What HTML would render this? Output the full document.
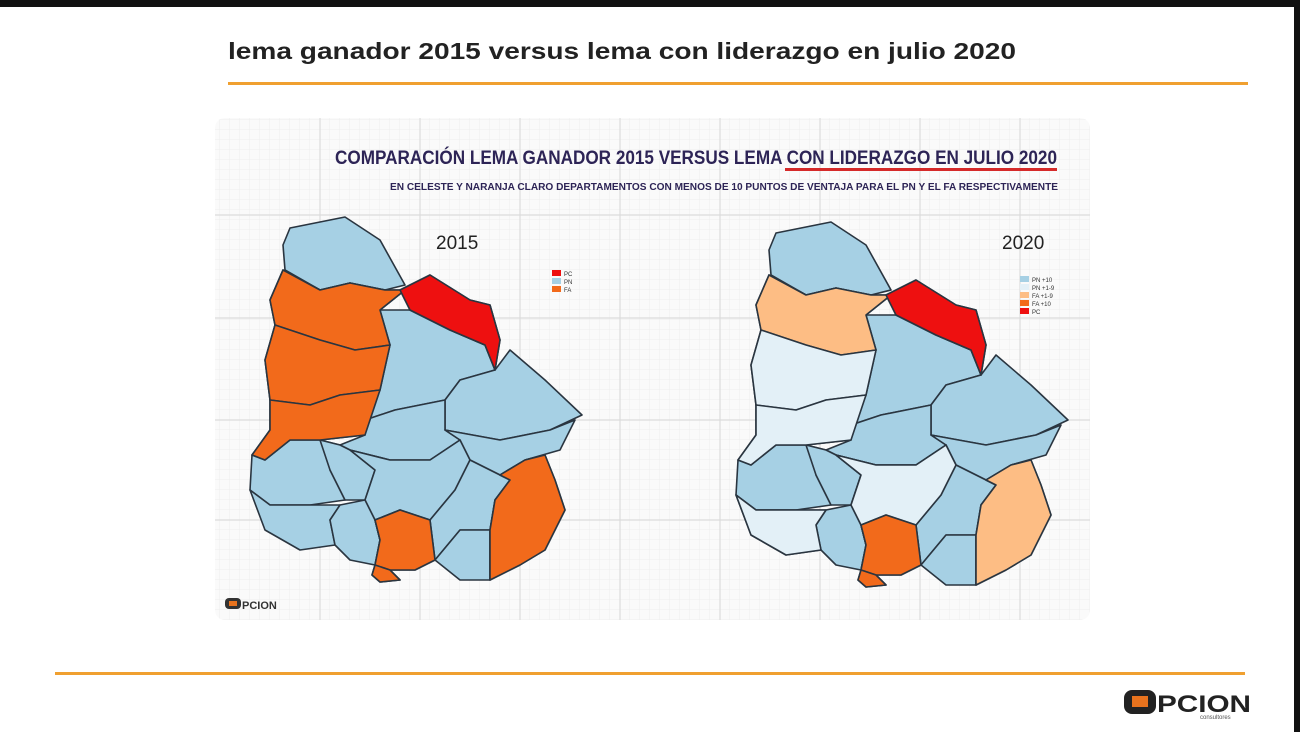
<!DOCTYPE html>
<html><head><meta charset="utf-8"><style>
body{margin:0;width:1300px;height:732px;background:#111;overflow:hidden;font-family:"Liberation Sans",sans-serif}
#page{position:absolute;left:0;top:7px;width:1294px;height:725px;background:#fff}
</style></head><body>
<div id="page"></div>
<svg width="1300" height="732" style="position:absolute;left:0;top:0">
<defs>
<pattern id="g" width="10" height="10" patternUnits="userSpaceOnUse"><path d="M10 0V10H0" fill="none" stroke="#eeeeee" stroke-width="1"/></pattern>
<g id="map" stroke="#2a3540" stroke-width="1.6" stroke-linejoin="round">
<polygon id="art" points="290,228 345,217 380,240 405,285 385,290 350,283 320,290 285,270 283,245"/>
<polygon id="sal" points="283,270 320,290 350,283 385,290 405,290 380,310 390,345 355,350 320,340 275,325 270,300"/>
<polygon id="pay" points="275,325 320,340 355,350 390,345 380,390 340,395 310,405 270,400 265,360"/>
<polygon id="rne" points="270,400 310,405 340,395 380,390 365,435 320,440 290,440 265,460 252,455 270,430"/>
<polygon id="tac" points="380,310 410,310 450,330 485,345 495,370 460,380 445,400 395,410 365,420 380,390 390,345"/>
<polygon id="cl" points="495,370 510,350 545,380 582,415 550,430 500,440 445,430 445,400 460,380"/>
<polygon id="dur" points="365,420 395,410 445,400 445,430 460,440 430,460 390,460 350,450 340,445 365,435"/>
<polygon id="tyt" points="445,430 500,440 550,430 575,420 560,450 525,460 500,475 470,460 460,440"/>
<polygon id="sor" points="252,455 265,460 290,440 320,440 340,445 330,470 345,500 310,505 270,505 250,490"/>
<polygon id="flo" points="320,440 340,445 350,450 375,470 365,500 345,500 330,470"/>
<polygon id="fla" points="350,450 390,460 430,460 460,440 470,460 455,490 430,520 400,510 375,520 365,500 375,470"/>
<polygon id="col" points="250,490 270,505 310,505 340,505 330,520 335,545 300,550 265,530"/>
<polygon id="sj" points="340,505 365,500 375,520 380,540 375,565 350,560 335,545 330,520"/>
<polygon id="can" points="375,520 400,510 430,520 435,560 415,570 390,570 375,565 380,540"/>
<polygon id="mvd" points="375,565 390,570 400,580 380,582 372,575"/>
<polygon id="lav" points="430,520 455,490 470,460 500,475 510,480 495,500 490,530 460,530 435,560"/>
<polygon id="mal" points="435,560 460,530 490,530 490,580 460,580"/>
<polygon id="roc" points="500,475 525,460 545,455 555,480 565,510 545,550 520,565 490,580 490,530 495,500 510,480"/>
<polygon id="riv" points="400,290 430,275 470,300 490,305 500,340 495,370 485,345 450,330 410,310"/>
</g>
</defs>
<rect x="215" y="118" width="875" height="502" rx="10" fill="#fafafa"/>
<rect x="215" y="118" width="875" height="502" rx="10" fill="url(#g)"/>
<g stroke="#dcdcdc" stroke-width="1.2"><path d="M320 118V620M420 118V620M520 118V620M620 118V620M720 118V620M820 118V620M920 118V620M1020 118V620M215 215H1090M215 318H1090M215 420H1090M215 520H1090"/></g>
<text x="228" y="59" font-family="Liberation Sans" font-weight="bold" font-size="23" fill="#222" textLength="788" lengthAdjust="spacingAndGlyphs">lema ganador 2015 versus lema con liderazgo en julio 2020</text>
<rect x="228" y="82" width="1020" height="3" fill="#f0a030"/>
<rect x="55" y="672" width="1190" height="3" fill="#f0a030"/>
<text x="335" y="164" font-weight="bold" font-size="19" fill="#2d2456" textLength="722" lengthAdjust="spacingAndGlyphs">COMPARACIÓN LEMA GANADOR 2015 VERSUS LEMA CON LIDERAZGO EN JULIO 2020</text>
<rect x="785" y="168" width="272" height="3" fill="#d52a2a"/>
<text x="390" y="190" font-weight="bold" font-size="10" fill="#2d2456" textLength="668" lengthAdjust="spacingAndGlyphs">EN CELESTE Y NARANJA CLARO DEPARTAMENTOS CON MENOS DE 10 PUNTOS DE VENTAJA PARA EL PN Y EL FA RESPECTIVAMENTE</text>
<text x="436" y="249" font-size="19" fill="#222">2015</text>
<text x="1002" y="249" font-size="19" fill="#222">2020</text>
<!-- 2015 map -->
<g>
<use href="#map" fill="#a6d0e4"/>
<g stroke="#2a3540" stroke-width="1.6" stroke-linejoin="round">
<use href="#sal" fill="#f26a1b"/><use href="#pay" fill="#f26a1b"/><use href="#rne" fill="#f26a1b"/>
<use href="#riv" fill="#ee1010"/><use href="#can" fill="#f26a1b"/><use href="#mvd" fill="#f26a1b"/><use href="#roc" fill="#f26a1b"/>
</g>
</g>
<!-- 2020 map -->
<g transform="translate(486,5)">
<use href="#map" fill="#a6d0e4"/>
<g stroke="#2a3540" stroke-width="1.6" stroke-linejoin="round">
<use href="#sal" fill="#fdbd84"/><use href="#pay" fill="#e3f0f7"/><use href="#rne" fill="#e3f0f7"/>
<use href="#fla" fill="#e3f0f7"/><use href="#col" fill="#e3f0f7"/>
<use href="#riv" fill="#ee1010"/><use href="#can" fill="#f26a1b"/><use href="#mvd" fill="#f26a1b"/><use href="#roc" fill="#fdbd84"/>
</g>
</g>
<!-- legends -->
<g font-size="6" fill="#333">
<rect x="552" y="270" width="9" height="6" fill="#ee1010"/><text x="564" y="276">PC</text>
<rect x="552" y="278" width="9" height="6" fill="#a6d0e4"/><text x="564" y="284">PN</text>
<rect x="552" y="286" width="9" height="6" fill="#f26a1b"/><text x="564" y="292">FA</text>
<rect x="1020" y="276" width="9" height="6" fill="#a6d0e4"/><text x="1032" y="282">PN +10</text>
<rect x="1020" y="284" width="9" height="6" fill="#e3f0f7"/><text x="1032" y="290">PN +1-9</text>
<rect x="1020" y="292" width="9" height="6" fill="#fdbd84"/><text x="1032" y="298">FA +1-9</text>
<rect x="1020" y="300" width="9" height="6" fill="#f26a1b"/><text x="1032" y="306">FA +10</text>
<rect x="1020" y="308" width="9" height="6" fill="#ee1010"/><text x="1032" y="314">PC</text>
</g>
<!-- small logo -->
<rect x="225" y="598" width="16" height="11" rx="4" fill="#333"/><rect x="229" y="601" width="8" height="5" fill="#e8731e"/>
<text x="242" y="609" font-weight="bold" font-size="11" fill="#333">PCION</text>
<!-- big logo -->
<rect x="1124" y="690" width="32" height="24" rx="8" fill="#222"/><rect x="1132" y="696" width="16" height="11" fill="#e8731e"/>
<text x="1157" y="712" font-weight="bold" font-size="24" fill="#222" textLength="94" lengthAdjust="spacingAndGlyphs">PCION</text>
<text x="1200" y="719" font-size="6" fill="#555">consultores</text>
</svg>
</body></html>
